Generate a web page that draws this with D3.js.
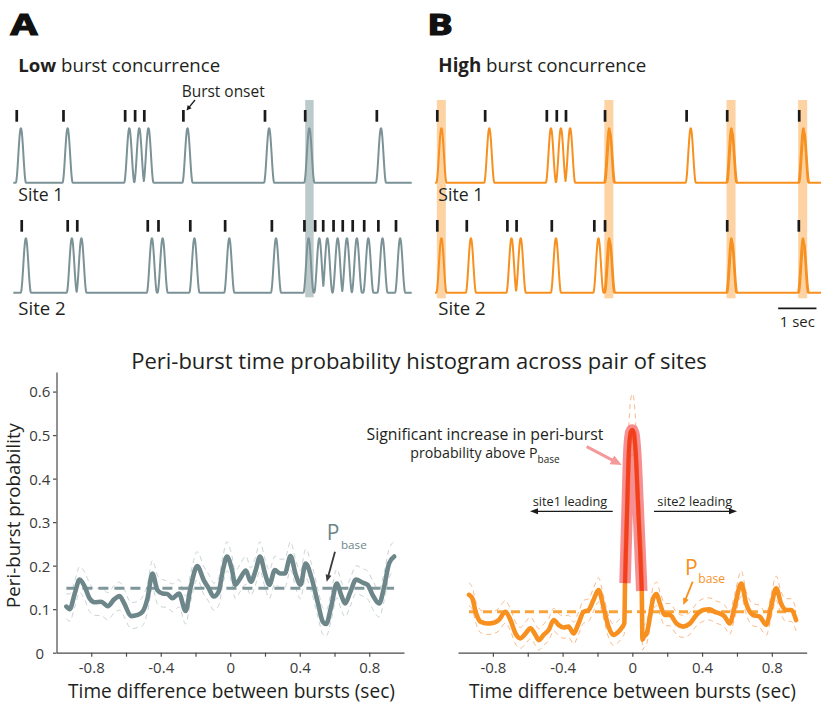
<!DOCTYPE html>
<html><head><meta charset="utf-8">
<script src="https://cdn.jsdelivr.net/npm/d3@7"></script>
<style>body{margin:0;background:#fff}svg{display:block}text{font-family:'Open Sans',sans-serif;fill:#231f20}</style>
</head><body><svg id="c" width="822" height="702"></svg>
<script>
// ---------------- DATA ----------------
// burst onset times (sec) for the raster panels
const site1OnsetsLow  = [0.09,1.31,2.92,3.18,3.42,4.44,6.57,7.62,9.49];
const site2OnsetsLow  = [0.22,1.42,1.67,3.51,3.79,4.62,5.53,6.75,7.60,7.88,8.09,8.36,8.60,8.86,9.16,9.53,9.99];
const site1OnsetsHigh = [0.06,1.31,2.92,3.18,3.42,4.44,6.57,7.63,9.51];
const site2OnsetsHigh = [0.06,0.83,1.89,2.13,3.05,4.16,4.44,7.63,9.50];
const concurrentLow   = [7.73];
const concurrentHigh  = [0.165,4.54,7.73,9.60];
const doubledHigh     = [4.44,7.63,9.51,9.50];

// peri-burst histogram, low concurrence (grey)
const lagLow = [-0.943,-0.924,-0.895,-0.867,-0.838,-0.810,-0.781,-0.743,-0.705,-0.667,-0.638,-0.610,-0.571,-0.533,-0.505,-0.476,-0.448,-0.419,-0.390,-0.362,-0.333,-0.295,-0.257,-0.229,-0.190,-0.152,-0.124,-0.095,-0.067,-0.042,-0.019,0.010,0.029,0.057,0.090,0.118,0.147,0.171,0.200,0.225,0.257,0.286,0.314,0.347,0.377,0.404,0.434,0.467,0.505,0.533,0.552,0.581,0.613,0.638,0.661,0.690,0.724,0.762,0.790,0.819,0.857,0.886,0.914,0.943];
const probLow = [0.106,0.100,0.136,0.168,0.152,0.125,0.116,0.117,0.107,0.123,0.130,0.113,0.084,0.087,0.094,0.125,0.182,0.144,0.136,0.135,0.125,0.136,0.096,0.148,0.199,0.166,0.148,0.129,0.140,0.190,0.221,0.190,0.156,0.171,0.189,0.163,0.190,0.221,0.182,0.156,0.190,0.182,0.182,0.222,0.179,0.156,0.205,0.173,0.113,0.071,0.066,0.106,0.159,0.133,0.113,0.138,0.168,0.161,0.156,0.133,0.113,0.152,0.205,0.221];
const upperLow = [0.135,0.135,0.165,0.198,0.185,0.160,0.146,0.150,0.138,0.155,0.162,0.145,0.115,0.118,0.128,0.158,0.212,0.178,0.168,0.165,0.158,0.168,0.130,0.180,0.232,0.198,0.180,0.160,0.172,0.222,0.255,0.222,0.188,0.203,0.222,0.195,0.222,0.255,0.215,0.190,0.222,0.215,0.215,0.255,0.212,0.188,0.238,0.205,0.145,0.103,0.098,0.138,0.192,0.165,0.145,0.170,0.200,0.193,0.188,0.166,0.145,0.185,0.238,0.255];
const lowerLow = [0.078,0.072,0.105,0.138,0.122,0.095,0.086,0.085,0.076,0.092,0.098,0.082,0.055,0.058,0.062,0.094,0.150,0.112,0.105,0.104,0.094,0.105,0.066,0.116,0.168,0.134,0.118,0.098,0.108,0.158,0.188,0.158,0.125,0.140,0.157,0.132,0.158,0.188,0.150,0.125,0.158,0.150,0.150,0.190,0.148,0.124,0.172,0.140,0.082,0.042,0.038,0.075,0.126,0.100,0.082,0.106,0.136,0.130,0.124,0.101,0.082,0.120,0.172,0.188];
const pBaseLow = 0.148;

// peri-burst histogram, high concurrence (orange)
const lagHigh = [-0.937,-0.918,-0.899,-0.870,-0.832,-0.794,-0.766,-0.728,-0.699,-0.670,-0.642,-0.613,-0.585,-0.556,-0.537,-0.509,-0.480,-0.451,-0.423,-0.394,-0.366,-0.337,-0.309,-0.280,-0.251,-0.223,-0.194,-0.166,-0.137,-0.109,-0.080,-0.060,-0.046,
  -0.042,-0.030,-0.019,-0.008,0,0.008,0.019,0.035,0.054,
  0.058,0.067,0.082,0.101,0.120,0.139,0.158,0.187,0.215,0.253,0.291,0.330,0.368,0.406,0.444,0.472,0.501,0.530,0.558,0.587,0.625,0.653,0.691,0.730,0.768,0.796,0.825,0.853,0.882,0.910,0.939];
const probHigh = [0.133,0.125,0.094,0.071,0.067,0.069,0.075,0.094,0.075,0.044,0.033,0.044,0.056,0.041,0.029,0.041,0.052,0.075,0.064,0.058,0.060,0.044,0.067,0.094,0.098,0.121,0.144,0.106,0.060,0.041,0.048,0.058,0.068,
  0.160,0.330,0.470,0.508,0.512,0.505,0.460,0.320,0.142,
  0.030,0.037,0.044,0.083,0.125,0.135,0.113,0.087,0.087,0.067,0.060,0.067,0.087,0.098,0.100,0.094,0.090,0.083,0.067,0.106,0.159,0.113,0.087,0.083,0.064,0.106,0.148,0.113,0.098,0.098,0.075];
const upperHigh = [0.160,0.150,0.120,0.098,0.093,0.095,0.102,0.120,0.100,0.070,0.058,0.070,0.082,0.066,0.055,0.066,0.078,0.102,0.090,0.084,0.086,0.070,0.093,0.120,0.124,0.148,0.172,0.132,0.086,0.066,0.074,0.084,0.094,
  0.190,0.380,0.530,0.585,0.595,0.585,0.530,0.370,0.170,
  0.056,0.063,0.070,0.110,0.152,0.162,0.140,0.113,0.113,0.093,0.086,0.093,0.113,0.124,0.126,0.120,0.116,0.109,0.093,0.134,0.188,0.140,0.113,0.109,0.090,0.133,0.176,0.140,0.124,0.124,0.100];
const lowerHigh = [0.108,0.100,0.070,0.046,0.042,0.044,0.050,0.068,0.050,0.020,0.010,0.020,0.032,0.017,0.006,0.017,0.028,0.050,0.040,0.033,0.035,0.020,0.042,0.068,0.072,0.095,0.116,0.080,0.036,0.017,0.024,0.034,0.044,
  0.130,0.280,0.420,0.450,0.455,0.450,0.410,0.270,0.115,
  0.006,0.012,0.020,0.058,0.098,0.108,0.088,0.062,0.062,0.042,0.035,0.042,0.062,0.072,0.075,0.069,0.065,0.058,0.042,0.080,0.130,0.088,0.062,0.058,0.040,0.080,0.120,0.088,0.072,0.072,0.050];
const pBaseHigh = 0.094;
const sigRange = [-0.042, 0.054];

const yTickVals = [0,0.1,0.2,0.3,0.4,0.5,0.6];
const xTickVals = [-0.8,-0.6,-0.4,-0.2,0,0.2,0.4,0.6,0.8];
const xLabelVals = [-0.8,-0.4,0,0.4,0.8];

// ---------------- DRAW ----------------
const svg = d3.select('#c');
const GREY='#7b9296', GREYD='#6d868a', ORANGE='#f7901e';

function fit(sel, w){ const n=sel.node(); const cur=n.getComputedTextLength(); const fs=parseFloat(sel.attr('font-size')); sel.attr('font-size', (fs*w/cur).toFixed(2)); return sel; }
function txt(x,y,s,fs,anchor){ return svg.append('text').attr('x',x).attr('y',y).attr('font-size',fs).attr('text-anchor',anchor||'start').text(s); }
function arrow(x1,y1,x2,y2,color,sw,hl,hw){
  const a=Math.atan2(y2-y1,x2-x1), c=Math.cos(a), s=Math.sin(a);
  const bx=x2-hl*c, by=y2-hl*s;
  svg.append('line').attr('x1',x1).attr('y1',y1).attr('x2',bx+c).attr('y2',by+s).attr('stroke',color).attr('stroke-width',sw);
  svg.append('path').attr('d',`M${x2},${y2}L${bx-s*hw/2},${by+c*hw/2}L${bx+s*hw/2},${by-c*hw/2}Z`).attr('fill',color);
}

// panel letters
txt(10.5,35,'A',28).attr('font-family','DejaVu Sans').attr('font-weight',700).attr('textLength',27).attr('lengthAdjust','spacingAndGlyphs').style('fill','#111').attr('stroke','#111').attr('stroke-width',1.2);
txt(427.2,35,'B',28).attr('font-family','DejaVu Sans').attr('font-weight',700).attr('textLength',25.5).attr('lengthAdjust','spacingAndGlyphs').style('fill','#111').attr('stroke','#111').attr('stroke-width',1.2);

// headings
const h1 = txt(18.3,72,'',17); h1.append('tspan').attr('font-weight',700).text('Low'); h1.append('tspan').text(' burst concurrence'); fit(h1,202);
const h2 = txt(438.3,72,'',17); h2.append('tspan').attr('font-weight',700).text('High'); h2.append('tspan').text(' burst concurrence'); fit(h2,208);

// raster traces
const HW=0.135, PEAK=0.108;
function bump(u){ return Math.abs(u)<1 ? 0.5*(1+Math.cos(Math.PI*u)) : 0; }
function trace(onsets, dur){ const pts=[]; for(let i=0;i<=Math.round(dur/0.004);i++){ const t=i*0.004; let v=0; for(const o of onsets) v=Math.max(v,bump((t-o-PEAK)/HW)); pts.push([t,v]); } return pts; }

const xA = d3.scaleLinear().domain([0,10.4]).range([13.3,411.7]);
const xB = d3.scaleLinear().domain([0,10.4]).range([435,833.3]);
const y1 = d3.scaleLinear().domain([0,1]).range([182.7,128.3]);
const y2 = d3.scaleLinear().domain([0,1]).range([292.7,238.3]);

// highlight bands
concurrentLow.forEach(c=>svg.append('rect').attr('x',xA(c-0.11)).attr('width',xA(c+0.11)-xA(c-0.11)).attr('y',100).attr('height',197.3).attr('fill','#bccacc'));
concurrentHigh.forEach(c=>svg.append('rect').attr('x',xB(c-0.118)).attr('width',xB(c+0.118)-xB(c-0.118)).attr('y',100).attr('height',198.3).attr('fill','#fdd3a3'));

function drawTrace(onsets,x,y,dur,color){
  const line=d3.line().x(d=>x(d[0])).y(d=>y(d[1]));
  svg.append('path').attr('d',line(trace(onsets,dur))).attr('fill','none').attr('stroke',color).attr('stroke-width',2).attr('stroke-linejoin','round');
  onsets.forEach(o=>svg.append('rect').attr('x',x(o)-1.35).attr('width',2.7).attr('y',y(1)-18.3).attr('height',11.7).attr('fill','#1a1a1a'));
}
drawTrace(site1OnsetsLow,xA,y1,10.4,GREY);
drawTrace(site2OnsetsLow,xA,y2,10.4,GREY);
drawTrace(site1OnsetsHigh,xB,y1,10.08,ORANGE);
drawTrace(site2OnsetsHigh,xB,y2,10.08,ORANGE);
// jagged double peaks for coincident bursts
[[site1OnsetsHigh,y1],[site2OnsetsHigh,y2]].forEach(([ons,y])=>{
  ons.filter(o=>doubledHigh.includes(o)).forEach(o=>{
    const pts=d3.range(0,61).map(i=>{const t=o-0.03+i*0.005; return [t, 0.92*bump((t-o-PEAK-0.03)/HW)];});
    svg.append('path').attr('d',d3.line().x(d=>xB(d[0])).y(d=>y(d[1]))(pts)).attr('fill','none').attr('stroke',ORANGE).attr('stroke-width',1.4);
  });
});

// site labels
[[18.3],[438.3]].forEach(([x])=>{ fit(txt(x,201,'Site 1',16),45); fit(txt(x,315,'Site 2',16),47.4); });
// burst onset annotation
fit(txt(181.7,96.5,'Burst onset',13),83);
arrow(195,100,186.5,110.5,'#1a1a1a',1.3,5,5);
// scale bar
svg.append('line').attr('x1',xB(8.96)).attr('x2',xB(9.96)).attr('y1',308.3).attr('y2',308.3).attr('stroke','#1a1a1a').attr('stroke-width',1.8);
fit(txt(xB(9.46),326.5,'1 sec',14,'middle'),35);

// title
fit(txt(419,368.5,'Peri-burst time probability histogram across pair of sites',20,'middle'),576);

// ---------- histograms ----------
const yP = d3.scaleLinear().domain([0,0.645]).range([652.7,372]);
const xL = d3.scaleLinear().domain([-1,1]).range([56.5,404]);
const xR = d3.scaleLinear().domain([-1,1]).range([458,806.7]);

// y axis
const gy = svg.append('g').attr('transform','translate(56.5,0)').attr('color','#4a4a4a')
  .call(d3.axisLeft(yP).tickValues(yTickVals).tickSizeInner(3.5).tickSizeOuter(0).tickFormat(d=>d===0?'0':d.toFixed(1)));
gy.selectAll('text').attr('x',-16.8).attr('text-anchor','middle').attr('dy','0.36em').attr('font-size',15).attr('font-family','Open Sans').style('fill','#3a3a3a');
gy.selectAll('path,line').attr('stroke-width',1.2);

function xAxis(x){
  const g = svg.append('g').attr('transform','translate(0,652.7)').attr('color','#4a4a4a')
    .call(d3.axisBottom(x).tickValues(xTickVals).tickSizeInner(4).tickSizeOuter(0).tickFormat(d=>xLabelVals.includes(d)?String(d):''));
  g.selectAll('text').attr('y',20.3).attr('dy',0).attr('font-size',15).attr('font-family','Open Sans').style('fill','#3a3a3a');
  g.selectAll('path,line').attr('stroke-width',1.2);
}
xAxis(xL); xAxis(xR);

// axis labels
fit(svg.append('text').attr('transform','translate(19.5,515.5) rotate(-90)').attr('text-anchor','middle').attr('font-size',18).text('Peri-burst probability'),185);
fit(txt(231.5,697.5,'Time difference between bursts (sec)',18,'middle'),327);
fit(txt(632.5,697.5,'Time difference between bursts (sec)',18,'middle'),327);

function drawHist(x,lag,prob,up,lo,pbase,colLine,colBand,colBase,dash){
  const L=d3.line().x(d=>x(d[0])).y(d=>yP(d[1])).curve(d3.curveMonotoneX);
  svg.append('path').attr('d',L(d3.zip(lag,up))).attr('fill','none').attr('stroke',colBand).attr('stroke-width',1).attr('stroke-dasharray','5,4');
  svg.append('path').attr('d',L(d3.zip(lag,lo))).attr('fill','none').attr('stroke',colBand).attr('stroke-width',1).attr('stroke-dasharray','5,4');
  svg.append('line').attr('x1',x(lag[0])).attr('x2',x(lag[lag.length-1])).attr('y1',yP(pbase)).attr('y2',yP(pbase))
    .attr('stroke',colBase).attr('stroke-width',3).attr('stroke-dasharray',dash);
  svg.append('path').attr('d',L(d3.zip(lag,prob))).attr('fill','none').attr('stroke',colLine).attr('stroke-width',4.6).attr('stroke-linejoin','round').attr('stroke-linecap','round');
  return L;
}
drawHist(xL,lagLow,probLow,upperLow,lowerLow,pBaseLow,GREYD,'#c9d3d5','#7f979b','10,6');
const LH = drawHist(xR,lagHigh,probHigh,upperHigh,lowerHigh,pBaseHigh,ORANGE,'#f9b98a','#f9a43a','9,5');

// significant peak highlight
const sig = d3.zip(lagHigh,probHigh).filter(d=>d[0]>=sigRange[0]&&d[0]<=sigRange[1]);
svg.append('path').attr('d',LH(sig)).attr('fill','none').attr('stroke','#f15a5f').attr('stroke-opacity',0.68).attr('stroke-width',11.5).attr('stroke-linejoin','round');
svg.append('path').attr('d',LH(sig)).attr('fill','none').attr('stroke','#f2401d').attr('stroke-width',4).attr('stroke-linejoin','round');

// annotations
fit(txt(485,440,'Significant increase in peri-burst',14,'middle'),237);
const t2 = txt(485,458.3,'',14.2,'middle'); t2.append('tspan').text('probability above P'); t2.append('tspan').attr('font-size',10).attr('dy',4.5).text('base');
arrow(586.7,446.7,621.7,465,'#f59a9a',3,11,10);

fit(txt(570,506,'site1 leading',13,'middle'),74.6);
fit(txt(694.8,506,'site2 leading',13,'middle'),75);
arrow(612.7,511.3,530,511.3,'#1a1a1a',1.3,8,6);
arrow(654,511.3,737,511.3,'#1a1a1a',1.3,8,6);

// P_base labels
txt(326.7,540,'P',21).style('fill','#6d868a');
fit(txt(341,549.3,'base',14.5).style('fill','#6d868a'),25.7);
arrow(335,551.7,326.7,581.7,'#3a3a3a',1.8,7,6);
txt(685,575,'P',21).style('fill',ORANGE);
fit(txt(698.3,583.3,'base',14.5).style('fill',ORANGE),26.7);
arrow(692.7,581.7,683.3,605,ORANGE,1.8,7,6);
</script></body></html>
